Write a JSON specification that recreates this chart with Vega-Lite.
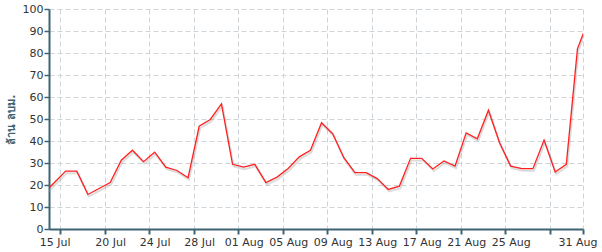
{
  "$schema": "https://vega.github.io/schema/vega-lite/v6.json",
  "width": 534,
  "height": 220,
  "autosize": "none",
  "padding": {"left": 49, "top": 9, "right": 19, "bottom": 23},
  "background": "white",
  "config": {"view": {"stroke": null}, "font": "DejaVu Sans"},
  "data": {"values": [
    {"date": "2023-07-14T12:00:00Z", "v": 16.1},
    {"date": "2023-07-16T12:00:00Z", "v": 26.3},
    {"date": "2023-07-17T12:00:00Z", "v": 26.3},
    {"date": "2023-07-18T12:00:00Z", "v": 15.7},
    {"date": "2023-07-20T12:00:00Z", "v": 21.1},
    {"date": "2023-07-21T12:00:00Z", "v": 31.3},
    {"date": "2023-07-22T12:00:00Z", "v": 35.8},
    {"date": "2023-07-23T12:00:00Z", "v": 30.6},
    {"date": "2023-07-24T12:00:00Z", "v": 34.9},
    {"date": "2023-07-25T12:00:00Z", "v": 28.1},
    {"date": "2023-07-26T12:00:00Z", "v": 26.6},
    {"date": "2023-07-27T12:00:00Z", "v": 23.3},
    {"date": "2023-07-28T12:00:00Z", "v": 46.7},
    {"date": "2023-07-29T12:00:00Z", "v": 49.8},
    {"date": "2023-07-30T12:00:00Z", "v": 56.9},
    {"date": "2023-07-31T12:00:00Z", "v": 29.4},
    {"date": "2023-08-01T12:00:00Z", "v": 28.1},
    {"date": "2023-08-02T12:00:00Z", "v": 29.4},
    {"date": "2023-08-03T12:00:00Z", "v": 21.1},
    {"date": "2023-08-04T12:00:00Z", "v": 23.6},
    {"date": "2023-08-05T12:00:00Z", "v": 27.5},
    {"date": "2023-08-06T12:00:00Z", "v": 32.8},
    {"date": "2023-08-07T12:00:00Z", "v": 35.8},
    {"date": "2023-08-08T12:00:00Z", "v": 48.3},
    {"date": "2023-08-09T12:00:00Z", "v": 43.3},
    {"date": "2023-08-10T12:00:00Z", "v": 32.4},
    {"date": "2023-08-11T12:00:00Z", "v": 25.6},
    {"date": "2023-08-12T12:00:00Z", "v": 25.6},
    {"date": "2023-08-13T12:00:00Z", "v": 22.9},
    {"date": "2023-08-14T12:00:00Z", "v": 18.0},
    {"date": "2023-08-15T12:00:00Z", "v": 19.5},
    {"date": "2023-08-16T12:00:00Z", "v": 32.1},
    {"date": "2023-08-17T12:00:00Z", "v": 32.1},
    {"date": "2023-08-18T12:00:00Z", "v": 27.3},
    {"date": "2023-08-19T12:00:00Z", "v": 30.9},
    {"date": "2023-08-20T12:00:00Z", "v": 28.6},
    {"date": "2023-08-21T12:00:00Z", "v": 43.7},
    {"date": "2023-08-22T12:00:00Z", "v": 41.0},
    {"date": "2023-08-23T12:00:00Z", "v": 54.0},
    {"date": "2023-08-24T12:00:00Z", "v": 39.2},
    {"date": "2023-08-25T12:00:00Z", "v": 28.6},
    {"date": "2023-08-26T12:00:00Z", "v": 27.4},
    {"date": "2023-08-27T12:00:00Z", "v": 27.4},
    {"date": "2023-08-28T12:00:00Z", "v": 40.4},
    {"date": "2023-08-29T12:00:00Z", "v": 25.9},
    {"date": "2023-08-30T12:00:00Z", "v": 29.4},
    {"date": "2023-08-31T12:00:00Z", "v": 81.9},
    {"date": "2023-09-01T12:00:00Z", "v": 95.0}
  ]},
  "encoding": {
    "x": {
      "field": "date",
      "type": "temporal",
      "scale": {
        "type": "utc",
        "nice": false,
        "domain": [
          {"year": 2023, "month": 7, "date": 15, "utc": true},
          {"year": 2023, "month": 9, "date": 1, "utc": true}
        ]
      },
      "axis": {
        "title": null,
        "values": [
          {"year": 2023, "month": 7, "date": 15, "hours": 12, "utc": true},
          {"year": 2023, "month": 7, "date": 16, "utc": true},
          {"year": 2023, "month": 7, "date": 20, "utc": true},
          {"year": 2023, "month": 7, "date": 20, "hours": 12, "utc": true},
          {"year": 2023, "month": 7, "date": 24, "utc": true},
          {"year": 2023, "month": 7, "date": 24, "hours": 12, "utc": true},
          {"year": 2023, "month": 7, "date": 28, "utc": true},
          {"year": 2023, "month": 7, "date": 28, "hours": 12, "utc": true},
          {"year": 2023, "month": 8, "date": 1, "utc": true},
          {"year": 2023, "month": 8, "date": 1, "hours": 12, "utc": true},
          {"year": 2023, "month": 8, "date": 5, "utc": true},
          {"year": 2023, "month": 8, "date": 5, "hours": 12, "utc": true},
          {"year": 2023, "month": 8, "date": 9, "utc": true},
          {"year": 2023, "month": 8, "date": 9, "hours": 12, "utc": true},
          {"year": 2023, "month": 8, "date": 13, "utc": true},
          {"year": 2023, "month": 8, "date": 13, "hours": 12, "utc": true},
          {"year": 2023, "month": 8, "date": 17, "utc": true},
          {"year": 2023, "month": 8, "date": 17, "hours": 12, "utc": true},
          {"year": 2023, "month": 8, "date": 21, "utc": true},
          {"year": 2023, "month": 8, "date": 21, "hours": 12, "utc": true},
          {"year": 2023, "month": 8, "date": 25, "utc": true},
          {"year": 2023, "month": 8, "date": 25, "hours": 12, "utc": true},
          {"year": 2023, "month": 8, "date": 29, "utc": true},
          {"year": 2023, "month": 8, "date": 31, "hours": 12, "utc": true},
          {"year": 2023, "month": 9, "date": 1, "utc": true}
        ],
        "labelExpr": "utchours(datum.value) == 12 ? utcFormat(datum.value, '%d %b') : ''",
        "labelOverlap": false,
        "labelFlush": false,
        "labelFont": "DejaVu Sans",
        "labelFontSize": 11,
        "labelColor": "#333333",
        "labelPadding": 2,
        "domainColor": "#3e6473",
        "domainWidth": 2,
        "tickColor": "#3e6473",
        "tickWidth": 2,
        "tickSize": 5,
        "tickOpacity": {"condition": {"test": "utchours(datum.value) == 12", "value": 0}, "value": 1},
        "grid": true,
        "gridColor": "#cfd4d8",
        "gridDash": [5, 3],
        "gridWidth": 1,
        "gridOpacity": {"condition": {"test": "utchours(datum.value) == 12", "value": 0}, "value": 1}
      }
    },
    "y": {
      "field": "v",
      "type": "quantitative",
      "scale": {"domain": [0, 100], "nice": false},
      "axis": {
        "title": "ล้าน ลบม.",
        "titleFont": "DejaVu Sans",
        "titleFontSize": 11,
        "titleFontWeight": "bold",
        "titleColor": "#3e6473",
        "titlePadding": 6,
        "values": [0, 10, 20, 30, 40, 50, 60, 70, 80, 90, 100],
        "labelFont": "DejaVu Sans",
        "labelFontSize": 11,
        "labelColor": "#333333",
        "labelPadding": 1,
        "domainColor": "#3e6473",
        "domainWidth": 2,
        "tickColor": "#3e6473",
        "tickWidth": 1.5,
        "tickSize": 5,
        "grid": true,
        "gridColor": "#cfd4d8",
        "gridDash": [5, 3],
        "gridWidth": 1
      }
    }
  },
  "layer": [
    {
      "mark": {"type": "line", "clip": true, "color": "#9a9a9a", "opacity": 0.35, "strokeWidth": 2, "xOffset": 1, "yOffset": 2}
    },
    {
      "mark": {"type": "line", "clip": true, "color": "#ff2020", "strokeWidth": 1.3}
    }
  ]
}
